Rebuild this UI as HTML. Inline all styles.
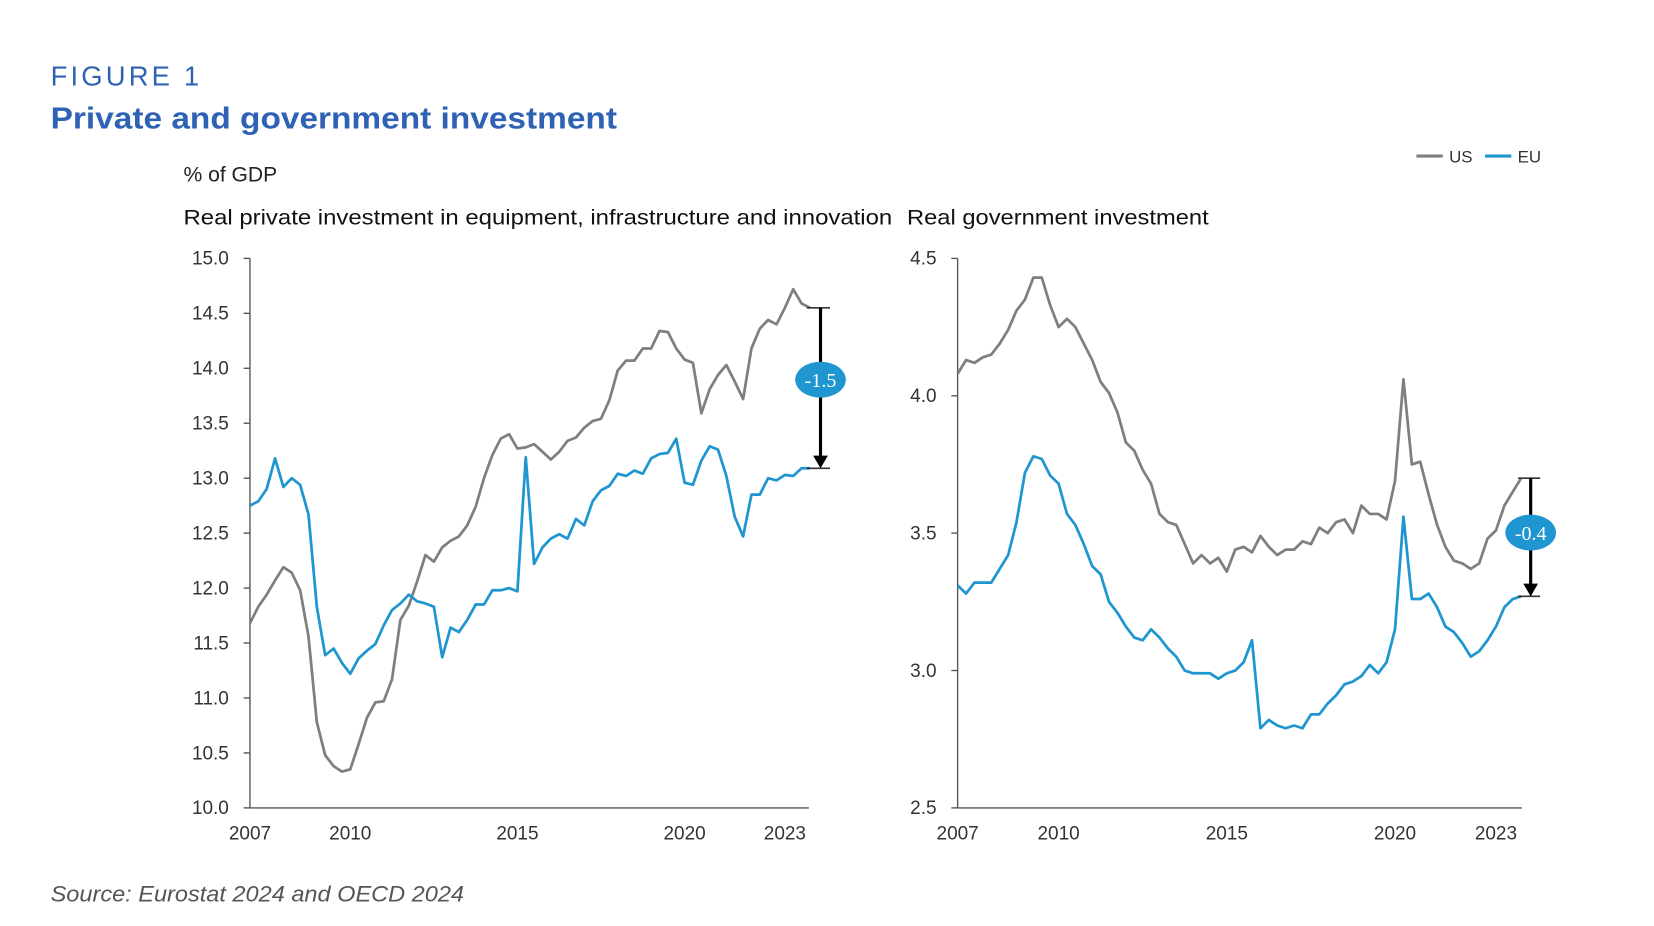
<!DOCTYPE html>
<html><head><meta charset="utf-8"><style>
html,body{margin:0;padding:0;background:#fff;}
svg{display:block;font-family:"Liberation Sans",sans-serif;}
</style></head><body>
<svg id="fig" width="1654" height="926" viewBox="0 0 1568 878" preserveAspectRatio="xMinYMin meet" xmlns="http://www.w3.org/2000/svg">
<text x="48" y="81" font-size="26" fill="#2f62b5" letter-spacing="3">FIGURE 1</text>
<text x="48" y="122" font-size="29" font-weight="bold" fill="#2f62b5" textLength="537" lengthAdjust="spacingAndGlyphs">Private and government investment</text>
<text x="174" y="172" font-size="20" fill="#222">% of GDP</text>
<text x="174" y="213" font-size="20" fill="#111" textLength="672" lengthAdjust="spacingAndGlyphs">Real private investment in equipment, infrastructure and innovation</text>
<text x="860" y="213" font-size="20" fill="#111" textLength="286" lengthAdjust="spacingAndGlyphs">Real government investment</text>
<g>
<line x1="1343" y1="148" x2="1368" y2="148" stroke="#7f7f7f" stroke-width="3"/>
<text x="1374" y="154" font-size="16" fill="#333">US</text>
<line x1="1408" y1="148" x2="1433" y2="148" stroke="#1f96d0" stroke-width="3"/>
<text x="1439" y="154" font-size="16" fill="#333">EU</text>
</g>
<g id="left"></g>
<g id="right"></g>
<text x="48" y="855" font-size="21" font-style="italic" fill="#555" textLength="392" lengthAdjust="spacingAndGlyphs">Source: Eurostat 2024 and OECD 2024</text>
</svg>
<script>
const xTickYears = [2007, 2010, 2015, 2020, 2023];
const leftYTicks = [10.0, 10.5, 11.0, 11.5, 12.0, 12.5, 13.0, 13.5, 14.0, 14.5, 15.0];
const rightYTicks = [2.5, 3.0, 3.5, 4.0, 4.5];
const leftUS = [11.68,11.83,11.94,12.07,12.19,12.14,11.98,11.56,10.78,10.48,10.38,10.33,10.35,10.58,10.82,10.96,10.97,11.17,11.71,11.84,12.06,12.30,12.24,12.37,12.43,12.47,12.57,12.74,13.00,13.21,13.36,13.40,13.27,13.28,13.31,13.24,13.17,13.24,13.34,13.37,13.46,13.52,13.54,13.71,13.98,14.07,14.07,14.18,14.18,14.34,14.33,14.18,14.08,14.05,13.59,13.81,13.94,14.03,13.88,13.72,14.18,14.36,14.44,14.40,14.55,14.72,14.59,14.55];
const leftEU = [12.75,12.79,12.90,13.18,12.92,13.00,12.94,12.67,11.83,11.39,11.45,11.32,11.22,11.36,11.43,11.49,11.66,11.80,11.86,11.94,11.88,11.86,11.83,11.37,11.64,11.60,11.71,11.85,11.85,11.98,11.98,12.00,11.97,13.19,12.22,12.37,12.45,12.49,12.45,12.63,12.57,12.79,12.89,12.93,13.04,13.02,13.07,13.04,13.18,13.22,13.23,13.36,12.96,12.94,13.16,13.29,13.26,13.02,12.65,12.47,12.85,12.85,13.00,12.98,13.03,13.02,13.09,13.09];
const rightUS = [4.08,4.13,4.12,4.14,4.15,4.19,4.24,4.31,4.35,4.43,4.43,4.33,4.25,4.28,4.25,4.19,4.13,4.05,4.01,3.94,3.83,3.80,3.73,3.68,3.57,3.54,3.53,3.46,3.39,3.42,3.39,3.41,3.36,3.44,3.45,3.43,3.49,3.45,3.42,3.44,3.44,3.47,3.46,3.52,3.50,3.54,3.55,3.50,3.60,3.57,3.57,3.55,3.69,4.06,3.75,3.76,3.64,3.53,3.45,3.40,3.39,3.37,3.39,3.48,3.51,3.60,3.65,3.70];
const rightEU = [3.31,3.28,3.32,3.32,3.32,3.37,3.42,3.54,3.72,3.78,3.77,3.71,3.68,3.57,3.53,3.46,3.38,3.35,3.25,3.21,3.16,3.12,3.11,3.15,3.12,3.08,3.05,3.00,2.99,2.99,2.99,2.97,2.99,3.00,3.03,3.11,2.79,2.82,2.80,2.79,2.80,2.79,2.84,2.84,2.88,2.91,2.95,2.96,2.98,3.02,2.99,3.03,3.15,3.56,3.26,3.26,3.28,3.23,3.16,3.14,3.10,3.05,3.07,3.11,3.16,3.23,3.26,3.27];
const leftGap = ["-1.5"];
const rightGap = ["-0.4"];

const NS = "http://www.w3.org/2000/svg";
function mk(parent, tag, attrs, text) {
  const e = document.createElementNS(NS, tag);
  for (const k in attrs) e.setAttribute(k, attrs[k]);
  if (text !== undefined) e.textContent = text;
  parent.appendChild(e);
  return e;
}

function drawChart(g, cfg, us, eu, yTicks, gapLabel) {
  const xs = t => cfg.x0 + (t - 2007) * cfg.yearPx;
  const ys = v => cfg.yBot - (v - cfg.vMin) / (cfg.vMax - cfg.vMin) * (cfg.yBot - cfg.yTop);
  const q = i => xs(2007 + i / 4);
  const ax = mk(g, 'line', {x1: cfg.x0, y1: cfg.yTop, x2: cfg.x0, y2: cfg.yBot, stroke: '#555', 'stroke-width': 1.3});
  
  
  const xa = mk(g, 'line', {x1: cfg.x0, y1: cfg.yBot, x2: cfg.xEnd, y2: cfg.yBot, stroke: '#555', 'stroke-width': 1.3});
  
  
  yTicks.forEach(v => {
    const y = ys(v);
    const tk = mk(g, 'line', {x1: cfg.x0 - 6, y1: y, x2: cfg.x0, y2: y, stroke: '#555', 'stroke-width': 1.3});
    
    
    const tl = mk(g, 'text', {x: cfg.x0 - 20, y: y + 6, 'font-size': 18, fill: '#333', 'text-anchor': 'end'}, v.toFixed(1));
    
    
  });
  xTickYears.forEach(yr => {
    const tl = mk(g, 'text', {x: xs(yr), y: 796, 'font-size': 18, fill: '#333', 'text-anchor': 'middle'}, String(yr));
    
    
  });
  const pts = arr => arr.map((v, i) => q(i).toFixed(1) + ',' + ys(v).toFixed(1)).join(' ');
  const lu = mk(g, 'polyline', {points: pts(us), fill: 'none', stroke: '#7f7f7f', 'stroke-width': 2.6, 'stroke-linejoin': 'round'});
  
  
  const le = mk(g, 'polyline', {points: pts(eu), fill: 'none', stroke: '#1f96d0', 'stroke-width': 2.6, 'stroke-linejoin': 'round'});
  
  
  const lastX = q(us.length - 1);
  const aX = lastX + cfg.arrowOff;
  const yU = ys(us[us.length - 1]), yE = ys(eu[eu.length - 1]);
  const c1 = mk(g, 'line', {x1: lastX - 3, y1: yU, x2: aX + 9, y2: yU, stroke: '#333', 'stroke-width': 1.5});
  
  
  const c2 = mk(g, 'line', {x1: lastX - 3, y1: yE, x2: aX + 9, y2: yE, stroke: '#333', 'stroke-width': 1.5});
  
  
  const sh = mk(g, 'line', {x1: aX, y1: yU, x2: aX, y2: yE - 10, stroke: '#000', 'stroke-width': 3});
  
  
  const hd = mk(g, 'polygon', {points: `${aX - 7},${yE - 12} ${aX + 7},${yE - 12} ${aX},${yE}`, fill: '#000'});
  
  
  const cy = cfg.bubbleY;
  const el = mk(g, 'ellipse', {cx: aX, cy: cy, rx: 24, ry: 17, fill: '#1f96d0'});
  
  
  const bt = mk(g, 'text', {x: aX, y: cy + 7, 'font-size': 19, fill: '#fff', 'text-anchor': 'middle', 'font-family': 'Liberation Serif, serif'}, gapLabel[0]);
  
  
}

drawChart(document.getElementById('left'),
  {x0: 237, yearPx: 31.7, xEnd: 767, yTop: 245, yBot: 766, vMin: 10, vMax: 15, arrowOff: 10, bubbleY: 360},
  leftUS, leftEU, leftYTicks, leftGap);
drawChart(document.getElementById('right'),
  {x0: 908, yearPx: 31.9, xEnd: 1443, yTop: 245, yBot: 766, vMin: 2.5, vMax: 4.5, arrowOff: 9, bubbleY: 505},
  rightUS, rightEU, rightYTicks, rightGap);
</script>
</body></html>
